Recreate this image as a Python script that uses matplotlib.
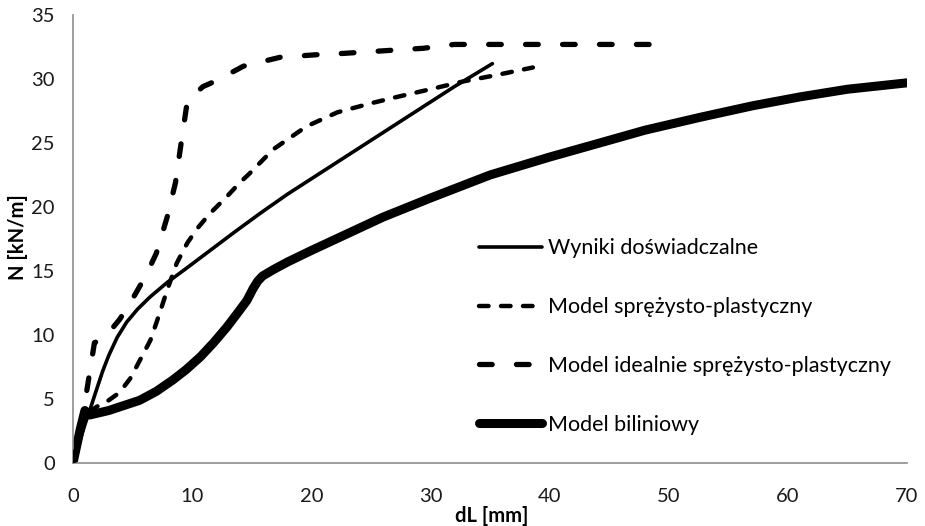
import matplotlib
matplotlib.use("Agg")
import matplotlib.pyplot as plt

plt.rcParams['font.family'] = ['Lato', 'DejaVu Sans']

# Wyniki doświadczalne (solid thin)
x_exp = [0, 0.5, 1.0, 1.4, 2.0, 2.5, 3.0, 3.7, 4.5, 5.4, 6.5, 7.9, 9.5, 11.5, 13.5, 15.7, 18, 20, 23, 26, 29, 32, 35.2]
y_exp = [0, 1.5, 3.0, 4.1, 5.8, 7.2, 8.4, 9.8, 11.0, 12.0, 13.0, 14.1, 15.2, 16.6, 18.0, 19.5, 21.0, 22.2, 24.0, 25.8, 27.6, 29.4, 31.2]

# Model sprężysto-plastyczny (short dash)
x_sp = [1.4, 2.0, 3.0, 3.9, 4.8, 5.6, 6.5, 7.2, 7.9, 8.7, 9.6, 10.5, 11.5, 12.9, 14.0, 14.8, 16.8, 19.6, 22.2, 25, 27.2, 30, 32.7, 35.5, 38.6]
y_sp = [4.0, 4.4, 4.9, 5.5, 6.6, 8.0, 9.6, 11.5, 13.5, 15.6, 17.2, 18.4, 19.5, 20.8, 21.9, 22.6, 24.5, 26.3, 27.4, 28.1, 28.6, 29.2, 29.8, 30.3, 30.9]

# Model idealnie sprężysto-plastyczny (long dash)
x_isp = [0, 0.6, 1.2, 1.8, 2.3, 3.1, 3.9, 4.8, 5.6, 6.3, 7.0, 7.9, 8.6, 9.0, 9.6, 10.9, 12.1, 14.3, 17.4, 20.5, 22.7, 26, 29.4, 32, 40, 49]
y_isp = [0, 2.5, 5.9, 9.4, 9.6, 10.3, 11.2, 12.5, 13.8, 15.0, 16.4, 19.2, 21.9, 24.5, 28.3, 29.4, 29.9, 31.0, 31.7, 31.9, 32.0, 32.2, 32.4, 32.7, 32.7, 32.7]

# Model biliniowy (thick)
x_bil = [0, 0.3, 0.6, 1.0, 1.4, 3, 5.6, 7, 8.4, 9.5, 10.7, 11.8, 12.9, 13.8, 14.6, 15.1, 15.5, 15.9, 16.8, 18, 20, 23, 26, 30, 35, 40, 44.2, 48, 52.6, 57, 61, 65, 70]
y_bil = [0, 1.3, 2.6, 4.1, 3.75, 4.1, 4.9, 5.6, 6.5, 7.3, 8.3, 9.4, 10.6, 11.7, 12.7, 13.6, 14.2, 14.6, 15.1, 15.7, 16.6, 17.9, 19.2, 20.7, 22.5, 23.9, 25.0, 26.0, 27.0, 27.9, 28.6, 29.2, 29.7]

labels = ["Wyniki doświadczalne", "Model sprężysto-plastyczny",
          "Model idealnie sprężysto-plastyczny", "Model biliniowy"]
x_ticks = [0, 10, 20, 30, 40, 50, 60, 70]
y_ticks = [0, 5, 10, 15, 20, 25, 30, 35]

fig = plt.figure(figsize=(9.25, 5.26), dpi=100)
ax = fig.add_axes([73/925, 63/526, 834/925, 448/526])

ax.plot(x_exp, y_exp, color='black', lw=2.6, solid_capstyle='round', solid_joinstyle='round', label=labels[0], zorder=4)
ax.plot(x_sp, y_sp, color='black', lw=3.2, linestyle=(0, (2.15, 2.8)), dash_capstyle='round', label=labels[1], zorder=3)
ax.plot(x_isp, y_isp, color='black', lw=3.8, linestyle=(0, (2.4, 4.6)), dash_capstyle='round', label=labels[2], zorder=3)
ax.plot(x_bil, y_bil, color='black', lw=6.5, solid_capstyle='round', solid_joinstyle='round', label=labels[3], zorder=2)

ax.set_xlim(0, 70)
ax.set_ylim(0, 35)
ax.set_xticks(x_ticks)
ax.set_yticks(y_ticks)
ax.tick_params(length=0, labelsize=14.5, colors='#1a1a1a')
ax.tick_params(axis='x', pad=18)
ax.tick_params(axis='y', pad=13)
for s in ['top', 'right']:
    ax.spines[s].set_visible(False)
for s in ['left', 'bottom']:
    ax.spines[s].set_color('#8c8c8c')
    ax.spines[s].set_linewidth(1.2)

ax.set_xlabel("dL [mm]", fontsize=14.5, fontweight='bold')
ax.xaxis.set_label_coords((492 - 73) / 834, (463 - 506) / 448)
ax.set_ylabel("N [kN/m]", fontsize=14.5, fontweight='bold')
ax.yaxis.set_label_coords((28 - 73) / 834, (463 - 237) / 448)

leg = ax.legend(loc='upper left', bbox_to_anchor=(460/925, 1 - 219/526), bbox_transform=fig.transFigure,
                frameon=False, fontsize=15.5, handlelength=2.9, handletextpad=0.28, labelspacing=1.8)

fig.savefig("out.png", dpi=100)
